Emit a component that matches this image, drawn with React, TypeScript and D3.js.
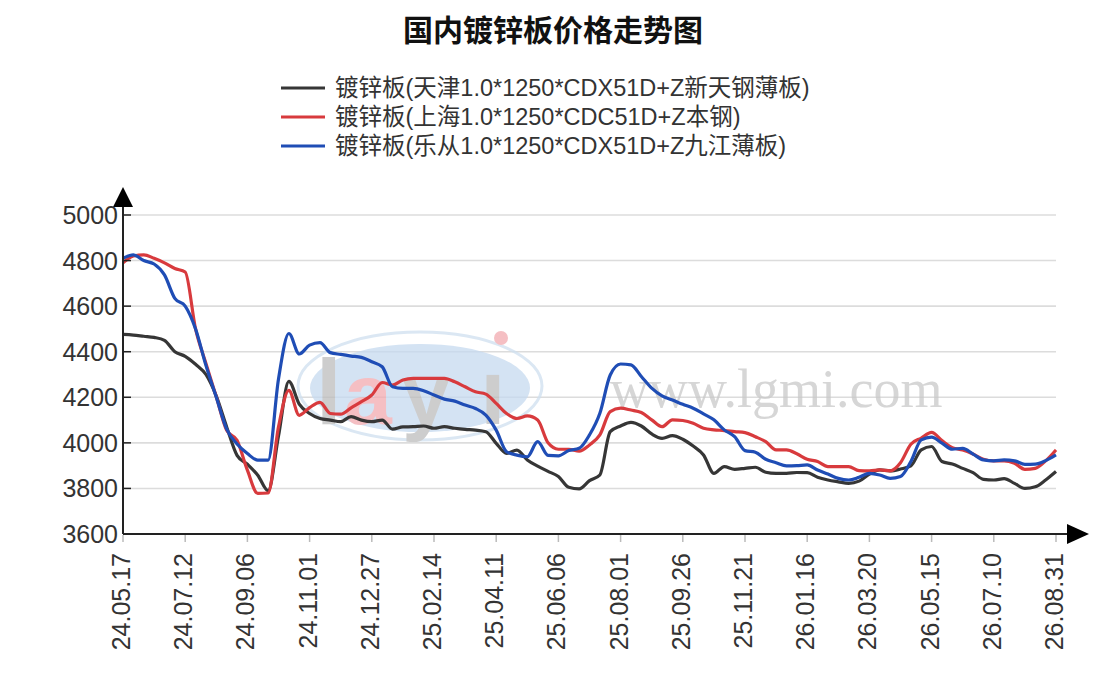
import * as d3 from "d3";

const W = 1107;
const H = 697;

const xLabels = [
  "24.05.17", "24.07.12", "24.09.06", "24.11.01", "24.12.27", "25.02.14", "25.04.11", "25.06.06",
  "25.08.01", "25.09.26", "25.11.21", "26.01.16", "26.03.20", "26.05.15", "26.07.10", "26.08.31",
];
const STEPS = 6; // samples between two labelled dates

const yTicks = [3600, 3800, 4000, 4200, 4400, 4600, 4800, 5000];

const tianjin = [
  4476, 4473, 4468, 4463, 4450, 4400, 4380, 4345, 4300, 4205, 4070, 3945, 3906, 3858, 3790, 4030, 4270, 4170,
  4129, 4107, 4100, 4093, 4115, 4100, 4093, 4100, 4060, 4070, 4071, 4074, 4064, 4071, 4064, 4059, 4056, 4049, 3998, 3954, 3968, 3925, 3898, 3875,
  3852, 3805, 3798, 3834, 3859, 4049, 4074, 4090, 4074, 4039, 4020, 4032, 4016, 3986, 3947, 3866, 3896, 3884, 3888, 3893, 3871, 3866, 3866, 3870,
  3869, 3849, 3837, 3829, 3822, 3832, 3863, 3881, 3877, 3885, 3899, 3969, 3984, 3918, 3907, 3888, 3869, 3840, 3837, 3843, 3822, 3800, 3807, 3837, 3874,
];

const shanghai = [
  4790, 4820, 4825, 4810, 4790, 4765, 4750, 4500, 4348, 4202, 4055, 4011, 3880, 3778, 3780, 4070, 4230, 4121,
  4155, 4178, 4129, 4126, 4154, 4181, 4210, 4265, 4254, 4276, 4283, 4283, 4283, 4283, 4268, 4246, 4224, 4214, 4173, 4129, 4107, 4118, 4100, 4000,
  3972, 3972, 3964, 3991, 4035, 4137, 4152, 4144, 4133, 4101, 4071, 4101, 4098, 4086, 4064, 4057, 4054, 4049, 4045, 4027, 4005, 3969, 3969, 3952,
  3928, 3918, 3896, 3896, 3896, 3878, 3877, 3881, 3877, 3913, 3994, 4021, 4046, 4010, 3979, 3969, 3951, 3928, 3921, 3921, 3910, 3884, 3888, 3921, 3969,
];

const lecong = [
  4810, 4825, 4800, 4785, 4737, 4634, 4600, 4500, 4340, 4200, 4060, 3995, 3953, 3924, 3924, 4280, 4480, 4390,
  4429, 4440, 4396, 4388, 4381, 4375, 4356, 4334, 4246, 4239, 4239, 4229, 4210, 4192, 4183, 4166, 4151, 4122, 4056, 3961, 3946, 3939, 4005, 3945,
  3943, 3966, 3976, 4035, 4130, 4298, 4346, 4342, 4291, 4240, 4206, 4188, 4169, 4152, 4127, 4101, 4057, 4027, 3966, 3959, 3928, 3913, 3899, 3900,
  3903, 3881, 3863, 3844, 3837, 3849, 3866, 3859, 3844, 3852, 3918, 4013, 4025, 3999, 3972, 3976, 3951, 3925, 3921, 3925, 3921, 3906, 3907, 3922, 3947,
];

const seriesNames = [
  "镀锌板(天津1.0*1250*CDX51D+Z新天钢薄板)",
  "镀锌板(上海1.0*1250*CDC51D+Z本钢)",
  "镀锌板(乐从1.0*1250*CDX51D+Z九江薄板)",
];
const seriesColors = ["#363636", "#d83a3d", "#1f4db5"];
const seriesValues = [tianjin, shanghai, lecong];

const LATIN = "'Liberation Sans', Arial, sans-serif";
const CJK = "'Noto Sans CJK SC', 'Noto Sans', sans-serif";
const MIXED = "'Liberation Sans', 'Noto Sans CJK SC', sans-serif";

export default function App() {
  const left = 123;
  const right = 1056;
  const top = 215;
  const bottom = 534;

  const x = d3.scaleLinear().domain([0, (xLabels.length - 1) * STEPS]).range([left, right]);
  const y = d3.scaleLinear().domain([3600, 5000]).range([bottom, top]);

  const line = d3
    .line<number>()
    .x((_, i) => x(i))
    .y((d) => y(d))
    .curve(d3.curveMonotoneX);

  return (
    <svg
      width={W}
      height={H}
      style={{ position: "absolute", left: 0, top: 0, background: "#fff" }}
    >
      {/* title */}
      <text
        x={553}
        y={41}
        textAnchor="middle"
        fontFamily={CJK}
        fontWeight={700}
        fontSize={30}
        fill="#111"
      >
        国内镀锌板价格走势图
      </text>

      {/* legend */}
      {seriesNames.map((name, i) => (
        <g key={name} transform={`translate(281,${88 + i * 29})`}>
          <line x1={0} x2={44} y1={0} y2={0} stroke={seriesColors[i]} strokeWidth={3} />
          <text x={54} y={8} fontFamily={MIXED} fontSize={23.5} fill="#333">
            {name}
          </text>
        </g>
      ))}

      {/* gridlines */}
      {yTicks.slice(1).map((t) => (
        <line key={t} x1={left} x2={right} y1={y(t)} y2={y(t)} stroke="#dcdcdc" strokeWidth={1.6} />
      ))}

      {/* watermark */}
      <g opacity={0.75}>
        <ellipse cx={420} cy={386} rx={122} ry={54} fill="none" stroke="#cfe0f0" strokeWidth={3} />
        <ellipse cx={420} cy={388} rx={110} ry={44} fill="#c6daf0" />
        <text x={316} y={424} fontFamily={LATIN} fontWeight={700} fontSize={92} fill="#bdbdbd">l</text>
        <text x={344} y={424} fontFamily={LATIN} fontWeight={700} fontSize={86} fill="#f2aab0">a</text>
        <text x={402} y={424} fontFamily={LATIN} fontWeight={700} fontSize={86} fill="#bdbdbd">y</text>
        <text x={480} y={424} fontFamily={LATIN} fontWeight={700} fontSize={92} fill="#bdbdbd">ı</text>
        <circle cx={501} cy={338} r={7} fill="#f2aab0" />
        <text x={610} y={407} fontFamily="'Liberation Serif', serif" fontSize={54} fill="#c9c9c9">
          www.lgmi.com
        </text>
      </g>

      {/* series */}
      {seriesValues.map((vals, i) => (
        <path
          key={seriesNames[i]}
          d={line(vals) ?? ""}
          fill="none"
          stroke={seriesColors[i]}
          strokeWidth={3.2}
          strokeLinejoin="round"
        />
      ))}

      {/* y axis */}
      <line x1={left} x2={left} y1={bottom} y2={204} stroke="#222" strokeWidth={2} />
      <path d={`M${left},187 L${left - 10},207 L${left + 10},207 Z`} fill="#000" />
      {yTicks.map((t) => (
        <g key={t}>
          <line x1={left} x2={left + 8} y1={y(t)} y2={y(t)} stroke="#222" strokeWidth={1.5} />
          <text
            x={left - 5}
            y={y(t)}
            dy="0.36em"
            textAnchor="end"
            fontFamily={LATIN}
            fontSize={25}
            fill="#333"
          >
            {t}
          </text>
        </g>
      ))}

      {/* x axis */}
      <line x1={left} x2={1068} y1={bottom} y2={bottom} stroke="#222" strokeWidth={2} />
      <path d={`M1089,${bottom} L1067,${bottom - 10} L1067,${bottom + 10} Z`} fill="#000" />
      {xLabels.map((lab, i) => {
        const xp = x(i * STEPS);
        return (
          <g key={lab}>
            <line x1={xp} x2={xp} y1={bottom + 1} y2={bottom + 8} stroke="#bbb" strokeWidth={1.5} />
            <text
              transform={`translate(${xp - 2},553) rotate(-90)`}
              dy="0.36em"
              textAnchor="end"
              fontFamily={LATIN}
              fontSize={25}
              fill="#333"
            >
              {lab}
            </text>
          </g>
        );
      })}
    </svg>
  );
}
